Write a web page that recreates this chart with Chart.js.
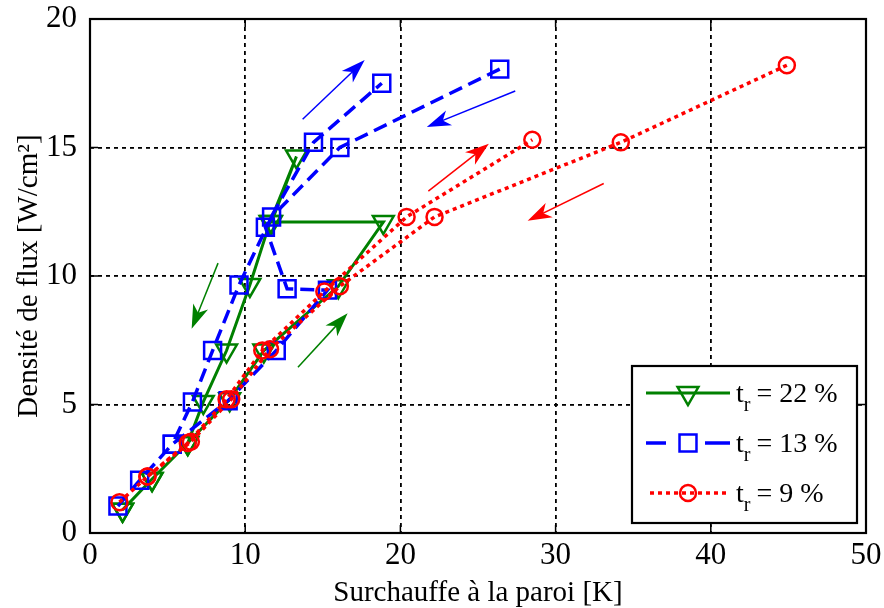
<!DOCTYPE html>
<html lang="fr">
<head>
  <meta charset="UTF-8">
  <title>Densité de flux - surchauffe</title>
  <script src="https://cdn.jsdelivr.net/npm/chart.js"></script>
  <style>
    * { margin: 0; padding: 0; box-sizing: border-box; }
    body { background: #fff; }
    .chart-box { position: relative; width: 884px; height: 608px; }
  </style>
</head>
<body>
  <div class="chart-box"><canvas id="fluxChart"></canvas></div>

  <script>
    const xTicks = [0, 10, 20, 30, 40, 50];
    const yTicks = [0, 5, 10, 15, 20];

    // t_r = 22 % (montée puis descente)
    const green22X = [2.1, 4.0, 6.3, 9.0, 11.2, 16.0, 18.9, 11.7, 13.3, 11.6, 10.3, 8.8, 7.3, 6.3, 4.0, 2.1];
    const green22Y = [0.9, 2.1, 3.5, 5.2, 7.1, 9.6, 12.1, 12.1, 14.65, 12.1, 9.65, 7.1, 5.1, 3.5, 2.1, 0.9];

    // t_r = 13 %
    const blueUpX = [1.8, 3.2, 5.3, 8.9, 12.0, 15.3, 12.7, 11.3, 14.4, 18.8];
    const blueUpY = [1.05, 2.05, 3.45, 5.15, 7.1, 9.45, 9.5, 11.9, 15.2, 17.5];
    const blueDownX = [26.4, 16.1, 11.7, 9.6, 7.9, 6.6, 5.3];
    const blueDownY = [18.05, 15.0, 12.3, 9.65, 7.1, 5.1, 3.45];

    // t_r = 9 %
    const redUpX = [1.9, 3.7, 6.3, 8.8, 11.1, 15.1, 20.4, 28.5];
    const redUpY = [1.2, 2.2, 3.5, 5.2, 7.1, 9.4, 12.3, 15.3];
    const redDownX = [44.9, 34.2, 22.2, 16.1, 11.6, 9.1, 6.5, 3.7];
    const redDownY = [18.2, 15.2, 12.3, 9.6, 7.15, 5.2, 3.55, 2.2];

    // flèches (sens de parcours)
    const arrowX0 = [13.7, 27.4, 21.8, 33.1, 8.25, 13.4];
    const arrowY0 = [16.1, 17.2, 13.3, 13.6, 10.5, 6.45];
    const arrowX1 = [17.7, 21.7, 25.7, 28.2, 6.55, 16.6];
    const arrowY1 = [18.4, 15.8, 15.15, 12.15, 7.95, 8.55];
    const arrowColors = ['#0000ff', '#0000ff', '#ff0000', '#ff0000', '#008000', '#008000'];

    const legendValues = ['22 %', '13 %', '9 %'];

    const FONT = "'Liberation Serif', 'Times New Roman', serif";
    const GREEN = '#008000', BLUE = '#0000ff', RED = '#ff0000';

    const pts = (xs, ys) => xs.map((x, i) => ({ x, y: ys[i] }));

    const styles = {
      green: { borderColor: GREEN, borderWidth: 3, borderDash: [], pointStyle: 'triangle', pointRotation: 180, pointRadius: 12 },
      blue: { borderColor: BLUE, borderWidth: 3.5, borderDash: [14, 7], pointStyle: 'rect', pointRotation: 0, pointRadius: 12 },
      red: { borderColor: RED, borderWidth: 3.5, borderDash: [4, 4], pointStyle: 'circle', pointRotation: 0, pointRadius: 8 }
    };

    function makeSet(xs, ys, st) {
      return {
        data: pts(xs, ys),
        borderColor: st.borderColor,
        borderWidth: st.borderWidth,
        borderDash: st.borderDash,
        pointStyle: st.pointStyle,
        rotation: st.pointRotation,
        pointRadius: st.pointRadius,
        pointBorderColor: st.borderColor,
        pointBackgroundColor: 'rgba(0,0,0,0)',
        pointBorderWidth: 2.5,
        tension: 0,
        fill: false
      };
    }

    // dessins en plus : cadre, graduations intérieures, flèches, légende
    const decorations = {
      id: 'decorations',
      afterDraw(chart) {
        const ctx = chart.ctx;
        const a = chart.chartArea;
        const xs = chart.scales.x, ys = chart.scales.y;
        ctx.save();
        ctx.setLineDash([]);
        ctx.strokeStyle = '#000';
        ctx.lineWidth = 2.2;
        ctx.strokeRect(a.left, a.top, a.right - a.left, a.bottom - a.top);

        ctx.lineWidth = 1.5;
        ctx.beginPath();
        xTicks.forEach(v => {
          const px = xs.getPixelForValue(v);
          ctx.moveTo(px, a.bottom); ctx.lineTo(px, a.bottom - 8);
          ctx.moveTo(px, a.top); ctx.lineTo(px, a.top + 8);
        });
        yTicks.forEach(v => {
          const py = ys.getPixelForValue(v);
          ctx.moveTo(a.left, py); ctx.lineTo(a.left + 8, py);
          ctx.moveTo(a.right, py); ctx.lineTo(a.right - 8, py);
        });
        ctx.stroke();

        // flèches
        arrowX0.forEach((x0, i) => {
          const p0x = xs.getPixelForValue(x0), p0y = ys.getPixelForValue(arrowY0[i]);
          const p1x = xs.getPixelForValue(arrowX1[i]), p1y = ys.getPixelForValue(arrowY1[i]);
          const ang = Math.atan2(p1y - p0y, p1x - p0x);
          const len = 24, half = 8;
          ctx.strokeStyle = arrowColors[i];
          ctx.fillStyle = arrowColors[i];
          ctx.lineWidth = 1.5;
          ctx.beginPath();
          ctx.moveTo(p0x, p0y);
          ctx.lineTo(p1x - Math.cos(ang) * 10, p1y - Math.sin(ang) * 10);
          ctx.stroke();
          const bx = p1x - Math.cos(ang) * len, by = p1y - Math.sin(ang) * len;
          const nx = p1x - Math.cos(ang) * len * 0.72, ny = p1y - Math.sin(ang) * len * 0.72;
          ctx.beginPath();
          ctx.moveTo(p1x, p1y);
          ctx.lineTo(bx - Math.sin(ang) * half, by + Math.cos(ang) * half);
          ctx.lineTo(nx, ny);
          ctx.lineTo(bx + Math.sin(ang) * half, by - Math.cos(ang) * half);
          ctx.closePath();
          ctx.fill();
        });

        // légende
        const lx = 632, ly = 366, lw = 225, lh = 157;
        ctx.fillStyle = '#fff';
        ctx.fillRect(lx, ly, lw, lh);
        ctx.strokeStyle = '#000';
        ctx.lineWidth = 2.2;
        ctx.strokeRect(lx, ly, lw, lh);

        const rows = [styles.green, styles.blue, styles.red];
        rows.forEach((st, i) => {
          const cy = ly + 27 + i * 50;
          ctx.save();
          ctx.strokeStyle = st.borderColor;
          ctx.lineWidth = st.borderWidth;
          ctx.setLineDash(st.borderDash);
          ctx.beginPath();
          if (st === styles.blue) {
            ctx.setLineDash([]);
            ctx.moveTo(646, cy); ctx.lineTo(666, cy);
            ctx.moveTo(705, cy); ctx.lineTo(730, cy);
          } else if (st === styles.red) {
            ctx.moveTo(650, cy); ctx.lineTo(730, cy);
          } else {
            ctx.moveTo(646, cy); ctx.lineTo(730, cy);
          }
          ctx.stroke();
          ctx.setLineDash([]);
          ctx.lineWidth = 2.5;
          ctx.fillStyle = 'rgba(0,0,0,0)';
          Chart.helpers.drawPoint(ctx, {
            pointStyle: st.pointStyle, rotation: st.pointRotation,
            radius: st.pointRadius, borderWidth: 2.5
          }, 688, cy);
          ctx.restore();

          ctx.fillStyle = '#000';
          ctx.textBaseline = 'alphabetic';
          ctx.font = `28px ${FONT}`;
          ctx.fillText('t', 736, cy + 9);
          const tw = ctx.measureText('t').width;
          ctx.font = `20px ${FONT}`;
          ctx.fillText('r', 736 + tw, cy + 18);
          const rw = ctx.measureText('r').width;
          ctx.font = `28px ${FONT}`;
          ctx.fillText('= ' + legendValues[i], 736 + tw + rw + 6, cy + 9);
        });
        ctx.restore();
      }
    };

    const ctx = document.getElementById('fluxChart').getContext('2d');
    new Chart(ctx, {
      type: 'line',
      data: {
        datasets: [
          makeSet(redUpX, redUpY, styles.red),
          makeSet(redDownX, redDownY, styles.red),
          makeSet(blueUpX, blueUpY, styles.blue),
          makeSet(blueDownX, blueDownY, styles.blue),
          makeSet(green22X, green22Y, styles.green)
        ]
      },
      options: {
        responsive: true,
        maintainAspectRatio: false,
        animation: false,
        layout: { padding: { top: 19, right: 18, left: 0, bottom: 0 } },
        plugins: { legend: { display: false }, tooltip: { enabled: false } },
        scales: {
          x: {
            type: 'linear',
            min: 0, max: 50,
            afterBuildTicks: s => { s.ticks = xTicks.map(v => ({ value: v })); },
            afterFit: s => { s.height = 75; s.paddingLeft = 0; s.paddingRight = 0; },
            grid: { color: '#000', lineWidth: 1.8, drawTicks: false },
            border: { display: false, dash: [4, 4] },
            ticks: { color: '#000', padding: 4, font: { family: FONT, size: 31 } },
            title: {
              display: true, text: 'Surchauffe à la paroi [K]', color: '#000',
              padding: { top: 0, bottom: 0 }, font: { family: FONT, size: 29, lineHeight: 1 }
            }
          },
          y: {
            type: 'linear',
            min: 0, max: 20,
            afterBuildTicks: s => { s.ticks = yTicks.map(v => ({ value: v })); },
            afterFit: s => { s.width = 90; s.paddingTop = 0; s.paddingBottom = 0; },
            grid: { color: '#000', lineWidth: 1.8, drawTicks: false },
            border: { display: false, dash: [4, 4] },
            ticks: { color: '#000', padding: 13, font: { family: FONT, size: 31 } },
            title: {
              display: true, text: 'Densité de flux [W/cm²]', color: '#000',
              padding: { top: 15, bottom: 0 }, font: { family: FONT, size: 29, lineHeight: 1 }
            }
          }
        }
      },
      plugins: [decorations]
    });
  </script>
</body>
</html>
